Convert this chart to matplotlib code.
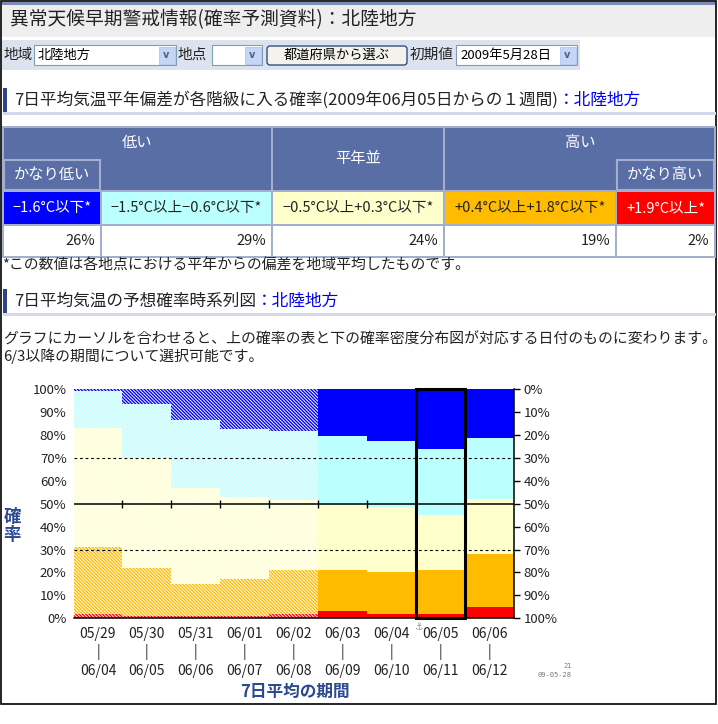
import numpy as np
import matplotlib
matplotlib.use('Agg')
import matplotlib.pyplot as plt
from matplotlib.patches import Rectangle, FancyBboxPatch

plt.rcParams['font.family'] = ['Noto Sans CJK JP', 'DejaVu Sans']
plt.rcParams['hatch.color'] = 'white'
plt.rcParams['hatch.linewidth'] = 0.7

#=============================================================================
# data
region     = '北陸地方'
init_date  = '2009年5月28日'

period_start = ['05/29', '05/30', '05/31', '06/01', '06/02', '06/03', '06/04', '06/05', '06/06']
period_end   = ['06/04', '06/05', '06/06', '06/07', '06/08', '06/09', '06/10', '06/11', '06/12']

# probability (%) of each class, bottom (warm) to top (cold)
p_red    = [2, 1, 1, 1, 2, 3, 2, 2, 5]
p_orange = [29, 21, 14, 16, 19, 18, 18, 19, 23]
p_yellow = [52, 48, 42, 36, 30.5, 28.5, 28.5, 24, 24]
p_cyan   = [16, 23.5, 29.5, 29.5, 30, 30, 29, 29, 26.5]
p_blue   = [1, 6.5, 13.5, 17.5, 18.5, 20.5, 22.5, 26, 21.5]

n_past   = 5      # hatched periods (not selectable)
selected = 7      # highlighted period (06/05 - 06/11)

class_labels = ['−1.6°C以下*', '−1.5°C以上−0.6°C以下*', '−0.5°C以上+0.3°C以下*',
                '+0.4°C以上+1.8°C以下*', '+1.9°C以上*']
class_pct    = [26, 29, 24, 19, 2]

C_BLUE, C_CYAN, C_YEL, C_ORG, C_RED = '#0000ff', '#bbffff', '#ffffcc', '#ffbb00', '#ff0000'
C_HEAD   = '#5a6ea6'
C_BORDER = '#a4afd0'
C_NAVY   = '#2b4a92'
C_LINK   = '#0000ee'

W, H = 718, 724
fig = plt.figure(figsize=(W/100, H/100), dpi=100)
bg = fig.add_axes([0, 0, 1, 1])
bg.set_xlim(0, W)
bg.set_ylim(H, 0)
bg.axis('off')

#-----------------------------------------------------------------------------
def box(x0, y0, x1, y1, fc='none', ec='none', lw=0, **kw):
    bg.add_patch(Rectangle((x0, y0), x1-x0, y1-y0, fc=fc, ec=ec, lw=lw, **kw))

def txt(x, y, s, size=10.5, color='#222222', ha='left', **kw):
    return bg.text(x, y, s, fontsize=size, color=color, ha=ha, va='center', **kw)

def select(x0, x1, y0, y1, label):
    box(x0, y0, x1, y1, fc='white', ec='#7f9db9', lw=0.8)
    box(x1-17, y0+1.5, x1-1.5, y1-1.5, fc='#c5d5f5', ec='#b0c4ee', lw=0.6)
    txt(x1-9.5, (y0+y1)/2, 'v', size=7, color='#4d6185', ha='center',
        family='DejaVu Sans', weight='bold')
    if label:
        txt(x0+4, (y0+y1)/2, label, size=9.5, color='black')

def heading(y, s):
    box(3, y-12, 7, y+12, fc='#2e4485')
    box(3, y+12, 716, y+15, fc='#d3d9e6')
    t = txt(14, y, s, size=12, color='#222222')
    bg.annotate('：' + region, xy=(1, 0), xycoords=t, ha='left', va='bottom',
                fontsize=12, color=C_LINK)

#-----------------------------------------------------------------------------
# page frame and title
box(1, 1, 716, 704, ec='black', lw=1.2)
box(2, 3, 715, 37, fc='#eeeeee')
box(2, 2, 715, 4.5, fc='#7d8cb5')
txt(10, 20, '異常天候早期警戒情報(確率予測資料)：' + region, size=13.5, color='#222222')

# form row
box(2, 40, 580, 70, fc='#dde3ee')
txt(4, 55, '地域', size=10.5)
select(34, 176, 45, 65, region)
txt(178, 55, '地点', size=10.5)
select(212, 262, 45, 65, '')
bg.add_patch(FancyBboxPatch((267, 46), 140, 19, boxstyle='round,pad=0,rounding_size=3',
                            fc='#f3f2ec', ec='#1c3f74', lw=0.9))
txt(337, 55.5, '都道府県から選ぶ', size=9.5, color='black', ha='center')
txt(410, 55, '初期値', size=10.5)
select(456, 577, 45, 65, init_date)

#-----------------------------------------------------------------------------
# probability table
heading(100, '7日平均気温平年偏差が各階級に入る確率(2009年06月05日からの１週間)')

box(2, 126, 716, 258, fc=C_BORDER)
box(4, 128, 271, 190, fc=C_HEAD)
box(273, 128, 443, 190, fc=C_HEAD)
box(445, 128, 714, 190, fc=C_HEAD)
box(4, 160, 100, 190, fc=C_HEAD, ec=C_BORDER, lw=1.5)
box(617, 160, 714, 190, fc=C_HEAD, ec=C_BORDER, lw=1.5)
txt(137, 143, '低い', size=11, color='white', ha='center')
txt(358, 158, '平年並', size=11, color='white', ha='center')
txt(580, 143, '高い', size=11, color='white', ha='center')
txt(52, 175, 'かなり低い', size=11, color='white', ha='center')
txt(665, 175, 'かなり高い', size=11, color='white', ha='center')

col_x = [(4, 100), (102, 271), (273, 443), (445, 615), (617, 714)]
col_fc = [C_BLUE, C_CYAN, C_YEL, C_ORG, C_RED]
col_tc = ['white', '#222222', '#222222', '#222222', 'white']
for (x0, x1), fc, tc, lab, pct in zip(col_x, col_fc, col_tc, class_labels, class_pct):
    box(x0, 192, x1, 224, fc=fc)
    txt((x0+x1)/2, 208, lab, size=10.5, color=tc, ha='center')
    box(x0, 226, x1, 256, fc='white')
    txt(x1-5, 241, f'{pct}%', size=10.5, color='#222222', ha='right')

txt(2, 265, '*この数値は各地点における平年からの偏差を地域平均したものです。', size=10.7)

#-----------------------------------------------------------------------------
# time series section
heading(301, '7日平均気温の予想確率時系列図')
txt(3, 340, 'グラフにカーソルを合わせると、上の確率の表と下の確率密度分布図が対応する日付のものに変わります。', size=10.7)
txt(3, 356, '6/3以降の期間について選択可能です。', size=10.7)

ax = fig.add_axes([73.5/W, 1-618.3/H, 440.5/W, 229.3/H])
ax.patch.set_alpha(0)
x = np.arange(len(period_start))
series = [(p_red, C_RED), (p_orange, C_ORG), (p_yellow, C_YEL), (p_cyan, C_CYAN), (p_blue, C_BLUE)]
bottom = np.zeros(len(x))
for vals, c in series:
    vals = np.array(vals, dtype=float)
    ax.bar(x[:n_past], vals[:n_past], 1.0, bottom=bottom[:n_past], color=c,
           edgecolor='white', lw=0, hatch='\\' * 10)
    ax.bar(x[n_past:], vals[n_past:], 1.0, bottom=bottom[n_past:], color=c, lw=0)
    bottom += vals

for yy in (30, 70):
    ax.axhline(yy, color='black', lw=0.8, dashes=(2.5, 2.5))
ax.axhline(50, color='black', lw=1.1)
ax.vlines(x[:-1] + 0.5, 48.3, 51.7, color='black', lw=1.0)
ax.add_patch(Rectangle((selected-0.5, 0), 1, 100, fill=False, ec='black', lw=2.2,
                       clip_on=False, zorder=5))

ax.set_xlim(-0.5, len(x)-0.5)
ax.set_ylim(0, 100)
yt = np.arange(0, 101, 10)
ax.set_yticks(yt, [f'{v}%' for v in yt])
ax.tick_params(axis='y', length=0, pad=5, labelsize=9.5, labelcolor='#222222')
ax.set_xticks(x, [f'{s}\n|\n{e}' for s, e in zip(period_start, period_end)])
ax.tick_params(axis='x', length=0, pad=6, labelsize=10, labelcolor='#222222')
for lab in ax.get_xticklabels():
    lab.set_linespacing(1.3)
for s in ('left', 'top', 'right'):
    ax.spines[s].set_visible(False)
ax.spines['bottom'].set_linewidth(1.1)

ax2 = ax.twinx()
ax2.set_ylim(100, 0)
ax2.set_yticks(yt, [f'{v}%' for v in yt])
ax2.tick_params(axis='y', length=4, width=1, pad=3, labelsize=9.5, labelcolor='#222222')
for s in ('left', 'top', 'bottom'):
    ax2.spines[s].set_visible(False)
ax2.spines['right'].set_linewidth(1.1)

txt(418, 627, '⚓', size=7, color='#999999', ha='center', family='DejaVu Sans')
txt(572, 666, '21', size=5, color='#777777', ha='right', family='DejaVu Sans Mono')
txt(572, 675, '09-05-28', size=5, color='#777777', ha='right', family='DejaVu Sans Mono')
txt(12, 526, '確\n率', size=12.5, color=C_NAVY, ha='center', weight='bold', linespacing=1.05)
txt(295, 692, '7日平均の期間', size=12, color=C_NAVY, ha='center', weight='bold')

fig.savefig('out.png', dpi=100)
